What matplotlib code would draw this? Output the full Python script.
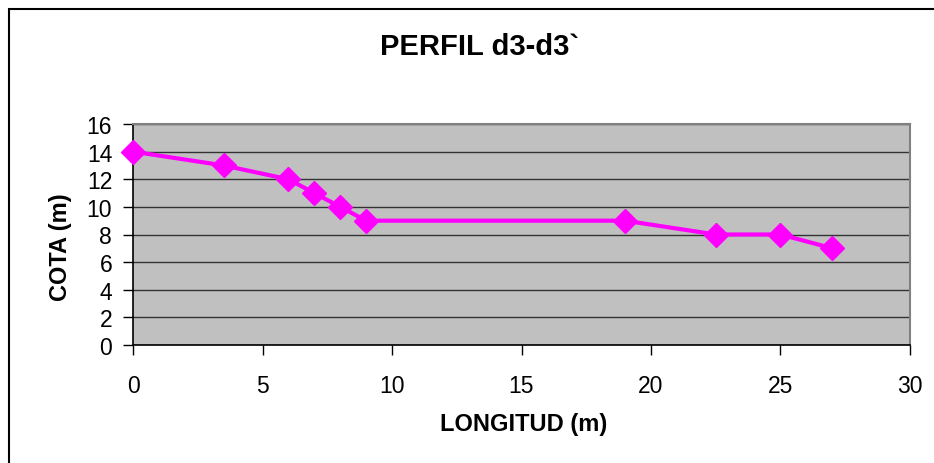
import matplotlib
matplotlib.use("Agg")
import matplotlib.pyplot as plt
from matplotlib.patches import Rectangle

longitud = [0, 3.5, 6, 7, 8, 9, 19, 22.5, 25, 27]
cota = [14, 13, 12, 11, 10, 9, 9, 8, 8, 7]
x_ticks = [0, 5, 10, 15, 20, 25, 30]
y_ticks = [0, 2, 4, 6, 8, 10, 12, 14, 16]

plt.rcParams['font.family'] = ['Liberation Sans', 'DejaVu Sans']

W, H = 934, 464
fig = plt.figure(figsize=(W / 100, H / 100), dpi=100)
ax = fig.add_axes([133 / W, 1 - 346 / H, (910 - 133) / W, (346 - 125) / H])
ax.set_facecolor('#C0C0C0')

ax.plot(longitud, cota, color='#FF00FF', lw=3, marker='D', markersize=12,
        markerfacecolor='#FF00FF', markeredgecolor='#FF00FF', clip_on=False, zorder=3)

ax.set_xlim(0, 30)
ax.set_ylim(0, 16)
ax.set_xticks(x_ticks)
ax.set_yticks(y_ticks)
ax.tick_params(axis='both', labelsize=16.5, direction='out', length=7, width=1, color='black')
ax.tick_params(axis='x', pad=14)
ax.tick_params(axis='y', pad=8)
ax.yaxis.grid(True, color='#333333', lw=1)
ax.set_axisbelow(True)
for s in ['left', 'bottom']:
    ax.spines[s].set_color('black')
    ax.spines[s].set_linewidth(1.2)
for s in ['top', 'right']:
    ax.spines[s].set_color('#808080')
    ax.spines[s].set_linewidth(1.5)

fig.text(480 / W, 1 - 47 / H, 'PERFIL d3-d3`', ha='center', va='center', fontsize=21, fontweight='bold')
fig.text(524 / W, 1 - 425 / H, 'LONGITUD (m)', ha='center', va='center', fontsize=17, fontweight='bold')
fig.text(60 / W, 1 - 247 / H, 'COTA (m)', ha='center', va='center', rotation=90, fontsize=17, fontweight='bold')

fig.patches.append(Rectangle((9 / W, -0.1), 1.2, 1 - 10 / H + 0.1, transform=fig.transFigure,
                             fill=False, edgecolor='black', lw=1.5))

fig.savefig('out.png', dpi=100)
